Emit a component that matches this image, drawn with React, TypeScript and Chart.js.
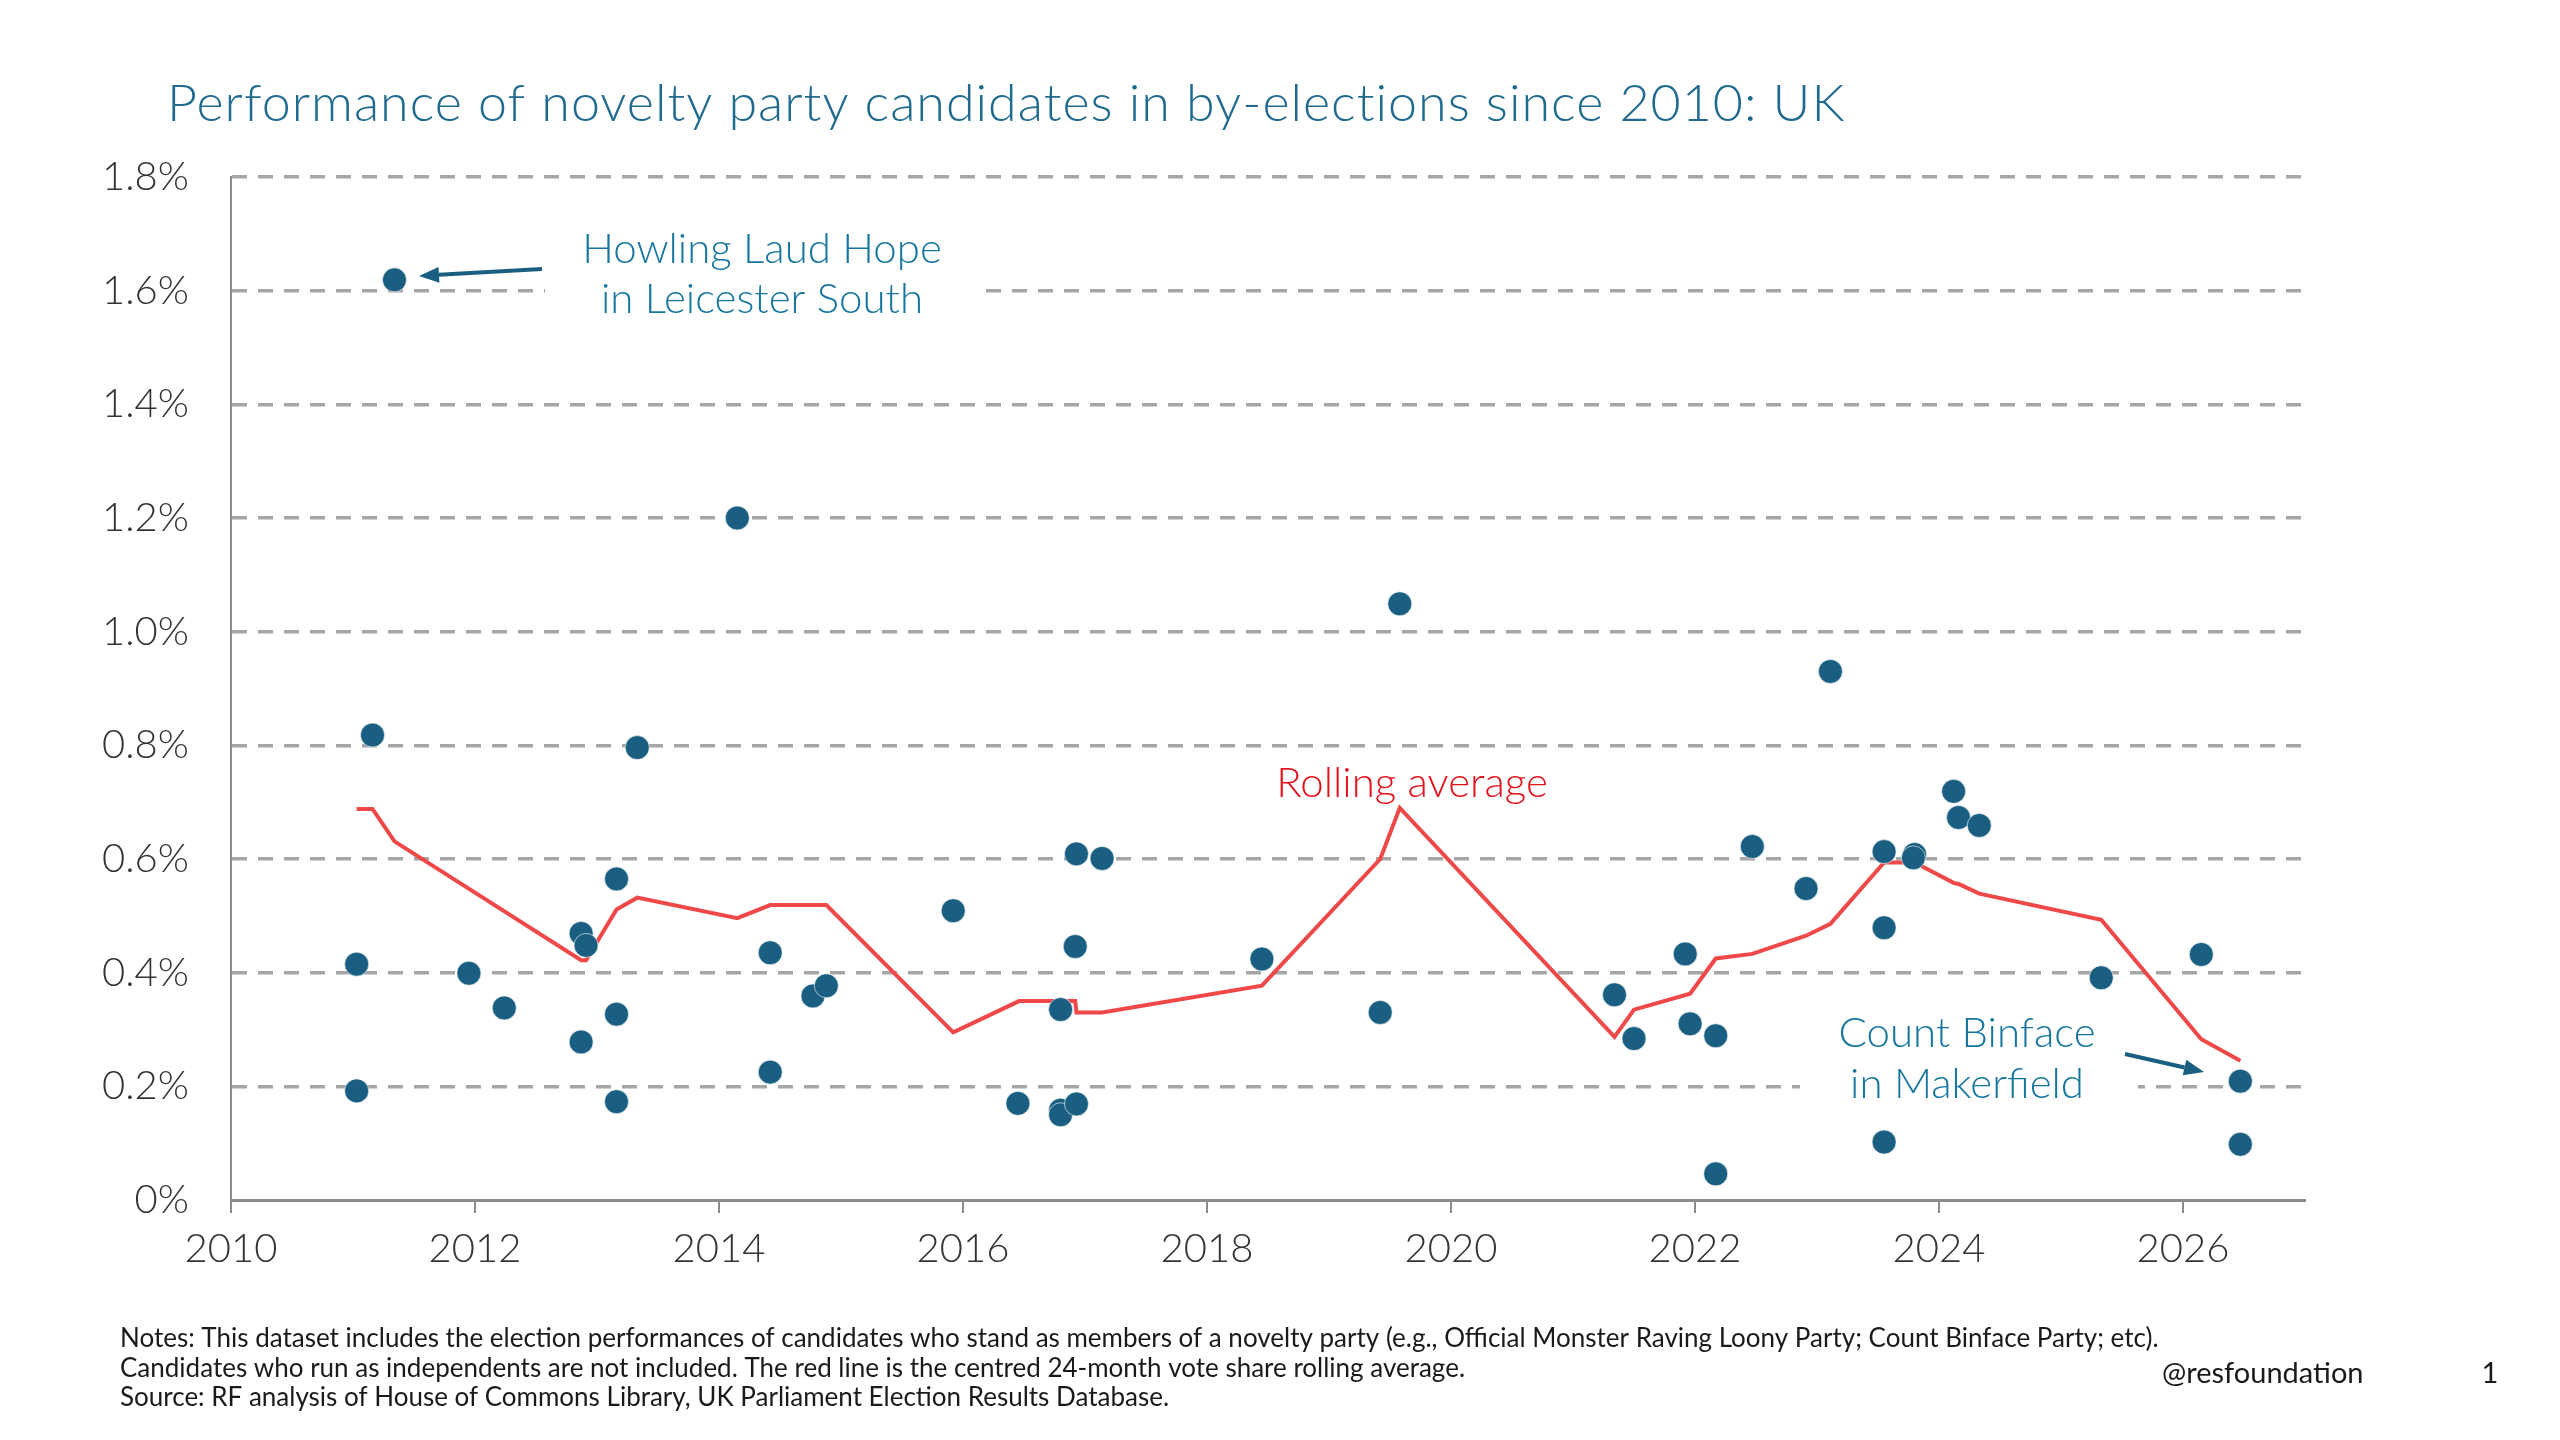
import { useEffect, useRef } from 'react';
import Chart from 'chart.js/auto';

// by-election dates (decimal years) and novelty candidate vote share (%)
const electionDates = [
	2011.03, 2011.03, 2011.16, 2011.34, 2011.95, 2012.24, 2012.87, 2012.91, 2012.87, 2013.16,
	2013.16, 2013.16, 2013.33, 2014.15, 2014.42, 2014.42, 2014.77, 2014.88, 2015.92, 2016.45,
	2016.8, 2016.8, 2016.8, 2016.93, 2016.92, 2016.93, 2017.14, 2018.45, 2019.42, 2019.58,
	2021.34, 2021.5, 2021.92, 2021.96, 2022.17, 2022.17, 2022.47, 2022.91, 2023.11, 2023.55,
	2023.55, 2023.55, 2023.8, 2023.79, 2024.12, 2024.16, 2024.33, 2025.33, 2026.15, 2026.47,
	2026.47,
];
const voteShare = [
	0.415, 0.192, 0.818, 1.619, 0.399, 0.338, 0.469, 0.448, 0.278, 0.565,
	0.327, 0.173, 0.796, 1.2, 0.435, 0.225, 0.359, 0.377, 0.509, 0.17,
	0.335, 0.158, 0.15, 0.169, 0.446, 0.609, 0.601, 0.424, 0.33, 1.049,
	0.361, 0.284, 0.433, 0.31, 0.289, 0.046, 0.622, 0.548, 0.93, 0.613,
	0.479, 0.102, 0.608, 0.602, 0.719, 0.673, 0.659, 0.391, 0.432, 0.209,
	0.098,
];

// centred 24-month rolling average
const avgDates = [
	2011.03, 2011.16, 2011.34, 2012.87, 2012.91, 2013.16, 2013.33, 2014.15, 2014.42, 2014.88,
	2015.92, 2016.46, 2016.92, 2016.93, 2017.14, 2018.45, 2019.42, 2019.58, 2021.34, 2021.5,
	2021.96, 2022.17, 2022.47, 2022.91, 2023.11, 2023.55, 2023.8, 2024.12, 2024.16, 2024.33,
	2025.33, 2026.15, 2026.47,
];
const avgShare = [
	0.688, 0.688, 0.631, 0.422, 0.422, 0.511, 0.532, 0.496, 0.519, 0.519,
	0.295, 0.35, 0.35, 0.33, 0.33, 0.377, 0.6, 0.69, 0.287, 0.335,
	0.363, 0.425, 0.433, 0.465, 0.486, 0.594, 0.594, 0.558, 0.556, 0.539,
	0.493, 0.283, 0.245,
];

const yearTicks = [2010, 2012, 2014, 2016, 2018, 2020, 2022, 2024, 2026];
const shareTicks = [0, 0.2, 0.4, 0.6, 0.8, 1.0, 1.2, 1.4, 1.6, 1.8];

const TITLE = 'Performance of novelty party candidates in by-elections since 2010: UK';
const NOTES = [
	'Notes: This dataset includes the election performances of candidates who stand as members of a novelty party (e.g., Official Monster Raving Loony Party; Count Binface Party; etc).',
	'Candidates who run as independents are not included. The red line is the centred 24-month vote share rolling average.',
	'Source: RF analysis of House of Commons Library, UK Parliament Election Results Database.',
];

const FONT = 'Lato, "Open Sans", sans-serif';
const TEAL = '#16769f';
const DOT = '#1a5f81';

function arrow(ctx: CanvasRenderingContext2D, x1: number, y1: number, x2: number, y2: number) {
	const a = Math.atan2(y2 - y1, x2 - x1);
	const hl = 20;
	const hw = 8;
	const bx = x2 - hl * Math.cos(a);
	const by = y2 - hl * Math.sin(a);
	ctx.save();
	ctx.strokeStyle = DOT;
	ctx.fillStyle = DOT;
	ctx.lineWidth = 4;
	ctx.beginPath();
	ctx.moveTo(x1, y1);
	ctx.lineTo(bx, by);
	ctx.stroke();
	ctx.beginPath();
	ctx.moveTo(x2, y2);
	ctx.lineTo(bx + hw * Math.sin(a), by - hw * Math.cos(a));
	ctx.lineTo(bx - hw * Math.sin(a), by + hw * Math.cos(a));
	ctx.closePath();
	ctx.fill();
	ctx.restore();
}

const textPlugin = {
	id: 'rfText',
	beforeDatasetsDraw(chart: Chart) {
		const ctx = chart.ctx;
		ctx.save();
		ctx.fillStyle = '#ffffff';
		ctx.fillRect(545, 222, 437, 100);
		ctx.fillRect(1800, 1005, 338, 105);
		ctx.restore();
	},
	afterDatasetsDraw(chart: Chart) {
		const ctx = chart.ctx;
		ctx.save();
		ctx.textAlign = 'center';
		ctx.textBaseline = 'alphabetic';
		ctx.fillStyle = TEAL;
		ctx.font = `300 42px ${FONT}`;
		ctx.fillText('Howling Laud Hope', 762, 263);
		ctx.fillText('in Leicester South', 762, 313);
		ctx.fillText('Count Binface', 1967, 1047);
		ctx.fillText('in Makerfield', 1967, 1098);
		ctx.fillStyle = '#e3121b';
		ctx.font = `300 42px ${FONT}`;
		ctx.fillText('Rolling average', 1412, 797);
		ctx.restore();
		arrow(ctx, 542, 269, 419, 276);
		arrow(ctx, 2125, 1054, 2204, 1072);
	},
	afterDraw(chart: Chart) {
		const ctx = chart.ctx;
		ctx.save();
		ctx.textBaseline = 'alphabetic';
		ctx.textAlign = 'left';
		ctx.fillStyle = '#1f6a8e';
		ctx.font = `300 52px ${FONT}`;
		(ctx as any).letterSpacing = '1px';
		ctx.fillText(TITLE, 167, 121);
		(ctx as any).letterSpacing = '0px';
		ctx.fillStyle = '#1a1a1a';
		ctx.font = `26px ${FONT}`;
		NOTES.forEach((line, i) => ctx.fillText(line, 120, 1347 + i * 29.5));
		ctx.font = `29px ${FONT}`;
		ctx.fillText('@resfoundation', 2162, 1383);
		ctx.textAlign = 'center';
		ctx.fillText('1', 2490, 1383);
		ctx.restore();
	},
};

export default function App() {
	const chartRef = useRef<HTMLCanvasElement>(null);

	useEffect(() => {
		if (!chartRef.current) return;
		const chart = new Chart(chartRef.current, {
			type: 'scatter',
			data: {
				datasets: [
					{
						type: 'scatter',
						label: 'Vote share',
						data: electionDates.map((x, i) => ({ x, y: voteShare[i] })),
						backgroundColor: DOT,
						borderColor: 'rgba(255,255,255,0.6)',
						borderWidth: 1,
						pointRadius: 12,
						order: 0,
					},
					{
						type: 'line',
						label: 'Rolling average',
						data: avgDates.map((x, i) => ({ x, y: avgShare[i] })),
						borderColor: '#ef4848',
						borderWidth: 4,
						pointRadius: 0,
						tension: 0,
						fill: false,
						order: 1,
					},
				],
			},
			options: {
				animation: false,
				responsive: true,
				maintainAspectRatio: false,
				devicePixelRatio: 1,
				layout: { padding: { top: 177, right: 255, bottom: 0, left: 0 } },
				plugins: {
					legend: { display: false },
					tooltip: { enabled: false },
					title: { display: false },
				},
				scales: {
					x: {
						type: 'linear',
						min: 2010,
						max: 2027,
						afterFit: (scale) => {
							scale.height = 240;
						},
						afterBuildTicks: (scale) => {
							scale.ticks = yearTicks.map((value) => ({ value }));
						},
						grid: {
							display: true,
							drawOnChartArea: false,
							drawTicks: true,
							tickLength: 13,
							color: '#8c8c8c',
							lineWidth: 2,
						},
						border: { display: true, color: '#8c8c8c', width: 3 },
						ticks: {
							color: '#333333',
							font: { family: FONT, size: 40, weight: '300' },
							padding: 12,
							maxRotation: 0,
							autoSkip: false,
							callback: (v) => String(v),
						},
					},
					y: {
						type: 'linear',
						min: 0,
						max: 1.8,
						afterFit: (scale) => {
							scale.width = 231;
						},
						afterBuildTicks: (scale) => {
							scale.ticks = shareTicks.map((value) => ({ value }));
						},
						grid: {
							color: (c) => (c.tick && c.tick.value === 0 ? 'rgba(0,0,0,0)' : '#a6a6a6'),
							lineWidth: 3.5,
							drawTicks: false,
						},
						border: { display: true, color: '#8c8c8c', width: 2, dash: [15, 11] },
						ticks: {
							color: '#333333',
							font: { family: FONT, size: 40, weight: '300' },
							padding: 42,
							autoSkip: false,
							callback: (v) => (Number(v) === 0 ? '0%' : Number(v).toFixed(1) + '%'),
						},
					},
				},
			},
			plugins: [textPlugin],
		});
		return () => chart.destroy();
	}, []);

	return (
		<div style={{ position: 'fixed', left: 0, top: 0, width: 2560, height: 1440, background: '#ffffff' }}>
			<canvas ref={chartRef}></canvas>
		</div>
	);
}
